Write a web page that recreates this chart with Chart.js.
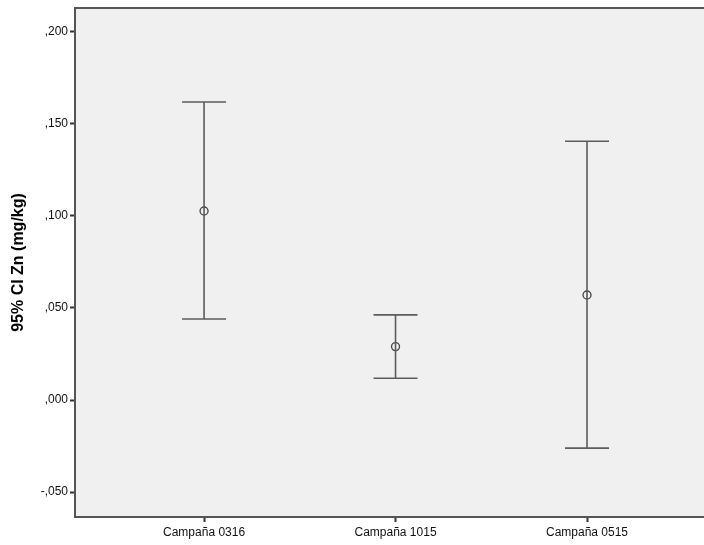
<!DOCTYPE html>
<html>
<head>
<meta charset="utf-8">
<script src="https://cdn.jsdelivr.net/npm/chart.js@4/dist/chart.umd.min.js"></script>
<style>
html,body{margin:0;padding:0;background:#fff;}
#wrap{width:704px;height:545px;}
</style>
</head>
<body>
<div id="wrap"><canvas id="ci" width="704" height="545"></canvas></div>
<script>
/* ---------- data ---------- */
const categories = ['Campaña 0316', 'Campaña 1015', 'Campaña 0515'];
const means = [0.1026, 0.0290, 0.0570];
const lower = [0.0440, 0.0118, -0.0261];
const upper = [0.1618, 0.0462, 0.1405];
const yTicks = [-0.05, 0, 0.05, 0.10, 0.15, 0.20];

/* ---------- build datasets ---------- */
const whiskers = [];
categories.forEach((c, i) => {
  whiskers.push({x: i + 1, y: lower[i]});
  whiskers.push({x: i + 1, y: upper[i]});
  whiskers.push({x: i + 1, y: null});
});

const caps = [];
categories.forEach((c, i) => {
  caps.push({x: i + 1, y: lower[i]});
  caps.push({x: i + 1, y: upper[i]});
});

const meanPts = categories.map((c, i) => ({x: i + 1, y: means[i]}));

const lineCol = '#5c5c5c';

// plot background + top border
const plotBg = {
  id: 'plotBg',
  beforeDraw(chart) {
    const {ctx, chartArea: a} = chart;
    ctx.save();
    ctx.fillStyle = '#f0f0f0';
    ctx.fillRect(a.left, a.top, a.right - a.left, a.bottom - a.top);
    ctx.strokeStyle = '#555';
    ctx.lineWidth = 2;
    ctx.beginPath();
    ctx.moveTo(a.left, a.top);
    ctx.lineTo(a.right, a.top);
    ctx.stroke();
    ctx.restore();
  }
};

const fmt = v => {
  const s = Math.abs(v).toFixed(3).replace(/^0\./, ',');
  return (v < -1e-9 ? '-' : '') + s;
};

const font = 'Arial, "Liberation Sans", sans-serif';

new Chart(document.getElementById('ci'), {
  type: 'scatter',
  data: {
    datasets: [
      {
        data: whiskers,
        showLine: true,
        spanGaps: false,
        borderColor: lineCol,
        borderWidth: 1.6,
        pointRadius: 0
      },
      {
        data: caps,
        showLine: false,
        pointStyle: 'line',
        pointRadius: 22,
        borderColor: lineCol,
        borderWidth: 1.6
      },
      {
        data: meanPts,
        showLine: false,
        pointStyle: 'circle',
        pointRadius: 4,
        borderColor: '#444',
        backgroundColor: '#f0f0f0',
        borderWidth: 1.3
      }
    ]
  },
  options: {
    responsive: false,
    animation: false,
    layout: {autoPadding: false, padding: {top: 8, right: 0, left: 0, bottom: 0}},
    plugins: {legend: {display: false}, tooltip: {enabled: false}},
    scales: {
      x: {
        type: 'linear',
        min: 0.326,
        max: 3.611,
        afterBuildTicks: s => { s.ticks = categories.map((c, i) => ({value: i + 1})); },
        afterFit: s => { s.height = 28; s.paddingLeft = 0; s.paddingRight = 0; },
        ticks: {
          color: '#111',
          padding: 3,
          autoSkip: false,
          maxRotation: 0,
          font: {family: font, size: 12},
          callback: v => categories[v - 1]
        },
        grid: {drawOnChartArea: false, drawTicks: true, tickLength: 5, tickWidth: 2, tickColor: '#333'},
        border: {display: true, color: '#555', width: 2}
      },
      y: {
        min: -0.0635,
        max: 0.2128,
        afterBuildTicks: s => { s.ticks = yTicks.map(v => ({value: v})); },
        afterFit: s => { s.width = 75; s.paddingTop = 0; s.paddingBottom = 0; },
        ticks: {
          color: '#111',
          padding: 2,
          font: {family: font, size: 12},
          callback: v => fmt(v)
        },
        title: {
          display: true,
          text: '95% CI Zn (mg/kg)',
          color: '#000',
          padding: {top: 9, bottom: 0},
          font: {family: font, size: 16, weight: 'bold'}
        },
        grid: {drawOnChartArea: false, drawTicks: true, tickLength: 5, tickWidth: 2, tickColor: '#333'},
        border: {display: true, color: '#555', width: 2}
      }
    }
  },
  plugins: [plotBg]
});
</script>
</body>
</html>
